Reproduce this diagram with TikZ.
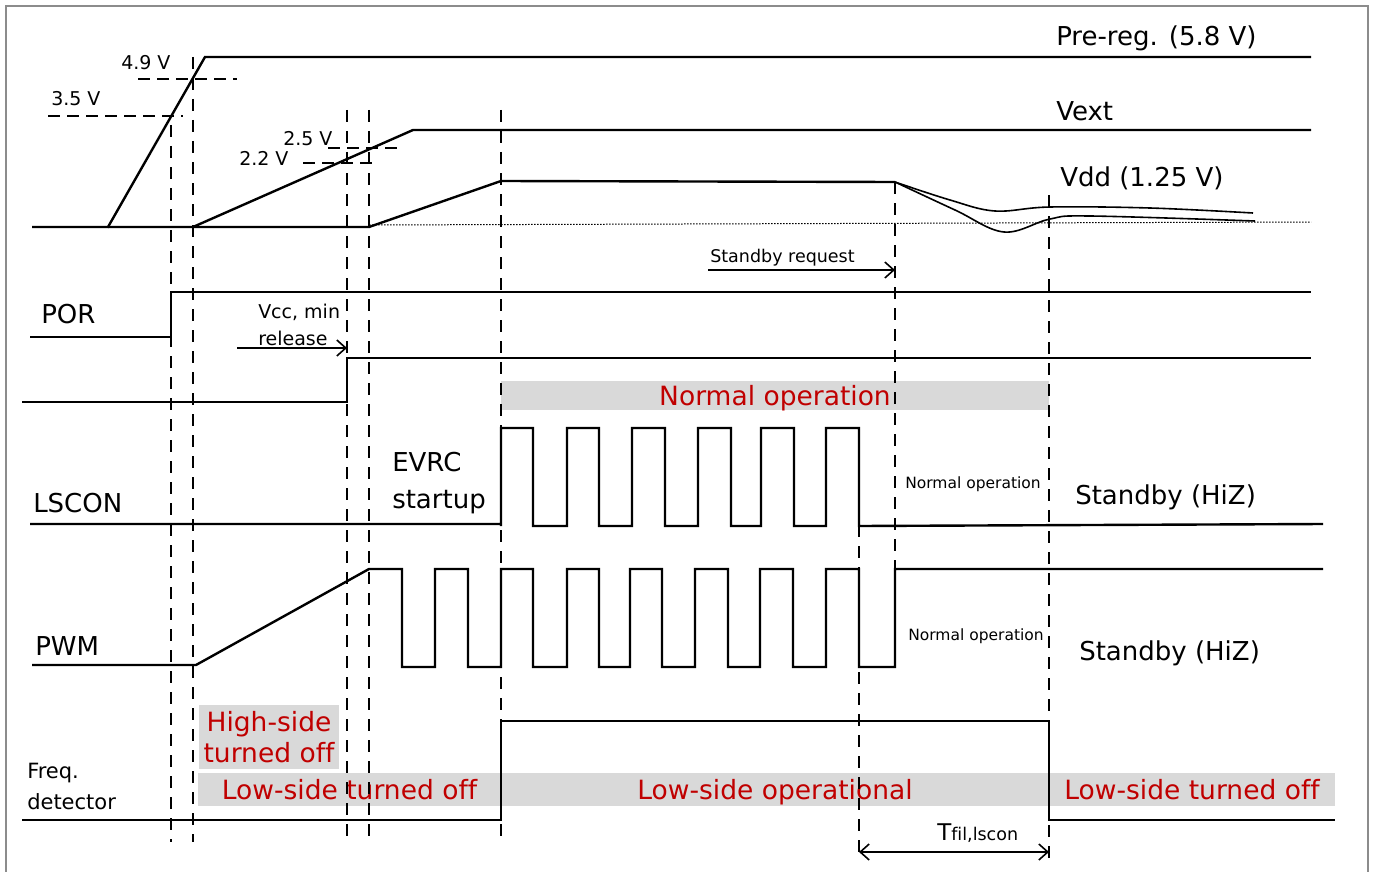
\documentclass[tikz,border=0pt]{standalone}
\usepackage{fontspec}
\setmainfont[Ligatures=NoCommon]{DejaVu Sans}
\usetikzlibrary{arrows.meta, positioning}
\definecolor{cred}{HTML}{C00000}
\definecolor{cband}{HTML}{D9D9D9}
\definecolor{cframe}{HTML}{8C8C8C}
\tikzset{
  every picture/.style={line width=2.5pt},
  sig/.style={draw=black, line width=2.4pt, line join=miter},
  guide/.style={draw=black, line width=2.2pt, dash pattern=on 12pt off 9pt},
  lvl/.style={draw=black, line width=2.2pt, dash pattern=on 12pt off 7pt},
  arr/.style={-{Straight Barb[length=9pt, width=16pt]}, line width=1.6pt},
  band/.style={fill=cband, inner sep=0pt, text=cred, align=center, text height=19.5pt, text depth=0pt},
  lbl/.style={inner sep=0pt, font=\fontsize{26}{37}\selectfont, align=left},
  vlbl/.style={inner sep=0pt, font=\fontsize{19}{27}\selectfont, align=left},
  note/.style={inner sep=0pt, font=\fontsize{15.5}{20}\selectfont},
}

\begin{document}
\begin{tikzpicture}[x=1pt, y=-1pt,
                    big/.style={font=\fontsize{26.5}{31}\selectfont},
                    thin/.style={line width=1.6pt}]
  \useasboundingbox (0,0) rectangle (1373,872);
  % frame
  \draw[cframe, line width=2pt] (6,872) -- (6,6) -- (1368,6) -- (1368,872);

  % grey bands
  \node[band, big, minimum width=548, minimum height=29] (normop) at (775,395.5) {Normal operation};
  \node[band, big, text height={}, text depth={}, minimum width=140, minimum height=64] (hsoff) at (269,737) {High-side\\turned off};
  \node[band, big, minimum width=303, minimum height=33] (lsoffa) at (349.5,789.5) {Low-side turned off};
  \node[band, big, minimum width=548, minimum height=33] (lsop) at (775,789.5) {Low-side operational};
  \node[band, big, minimum width=286, minimum height=33] (lsoffb) at (1192,789.5) {Low-side turned off};

  % supplies
  \draw[sig] (32,227) -- (108,227) -- (205,57) -- (1311,57);
  \draw[sig] (108,227) -- (193,227) -- (413,130) -- (1311,130);
  \draw[sig] (193,227) -- (369,227) -- (501,181) -- (895,182);
  \draw[line width=1pt, dash pattern=on 1.5pt off 1.5pt] (369,225) -- (1311,222);
  \draw[thin] plot[smooth, tension=0.6] coordinates {(895,182) (950,200) (995,211) (1050,207) (1150,208) (1253,213)};
  \draw[thin] plot[smooth, tension=0.6] coordinates {(895,182) (955,210) (1004,232) (1050,219) (1090,216) (1255,221)};

  % threshold levels
  \draw[lvl] (138,79) -- (237,79);
  \draw[lvl] (48,116) -- (183,116);
  \draw[lvl] (328,148) -- (402,148);
  \draw[lvl] (303,163) -- (377,163);

  % POR and release
  \draw[sig] (30,337) -- (171,337) -- (171,292) -- (1311,292);
  \draw[sig] (22,402) -- (347,402) -- (347,358) -- (1311,358);

  % LSCON
  \draw[sig] (30,524) -- (501,524)
    \foreach \r/\f in {501/533,567/599,632/665,698/731,761/794,826/859} { -- (\r,526) -- (\r,428) -- (\f,428) -- (\f,526) }
    -- (1323,524);

  % PWM
  \draw[sig] (32,665) -- (196,665) -- (369,569)
    \foreach \f/\r in {402/435,468/501,533/567,599/630,662/695,728/760,793/826,859/895} { -- (\f,569) -- (\f,667) -- (\r,667) -- (\r,569) }
    -- (1323,569);

  % frequency detector
  \draw[sig] (22,820) -- (501,820) -- (501,721) -- (1049,721) -- (1049,820) -- (1335,820);

  % time markers
  \foreach \x/\a/\b in {171/125/842, 193/57/842, 347/110/842, 369/110/842, 501/110/842, 859/525/858, 895/182/570, 1049/195/858}
    \draw[guide] (\x,\a) -- (\x,\b);

  % labels
  \node[lbl, anchor=base west] (prereg) at (1055,46) {Pre-reg. (5.8 V)};
  \node[lbl, anchor=base west] (vext) at (1055,121) {Vext};
  \node[lbl, anchor=base west] (vdd) at (1059,186) {Vdd (1.25 V)};
  \node[vlbl, anchor=base west] (v49) at (120,70) {4.9 V};
  \node[vlbl, anchor=base west] (v35) at (50,106) {3.5 V};
  \node[vlbl, anchor=base west] (v25) at (282,146) {2.5 V};
  \node[vlbl, anchor=base west] (v22) at (238,165) {2.2 V};
  \node[lbl, anchor=base west] (por) at (40,323) {POR};
  \node[vlbl, anchor=north west] (vccmin) at (257,303) {Vcc, min\\release};
  \node[lbl, anchor=north west] (evrc) at (391,451) {EVRC\\startup};
  \node[lbl, anchor=base west] (lscon) at (32,512) {LSCON};
  \node[lbl, anchor=base west] (pwm) at (34,655) {PWM};
  \node[vlbl, anchor=north west, font=\fontsize{21}{31}\selectfont] (freq) at (26,762) {Freq.\\detector};
  \node[note, anchor=base west] (noplc) at (904,488) {Normal operation};
  \node[note, anchor=base west] (nopwm) at (907,640) {Normal operation};
  \node[lbl, anchor=base west] (sblc) at (1074,504) {Standby (HiZ)};
  \node[lbl, anchor=base west] (sbpwm) at (1078,660) {Standby (HiZ)};
  \node[vlbl, anchor=base west, font=\fontsize{17.5}{20}\selectfont] (sbreq) at (709,262) {Standby request};
  \node[inner sep=0pt, anchor=base west] (tfil) at (936,840) {\fontsize{23}{26}\selectfont T\fontsize{17.5}{20}\selectfont fil,lscon};

  % arrows
  \coordinate (relfrom) at (237,348);
  \coordinate (relto) at (347,348);
  \coordinate (sbfrom) at (708,270);
  \coordinate (sbto) at (895,270);
  \coordinate (tfa) at (859,852);
  \coordinate (tfb) at (1049,852);
  \draw[arr] (relfrom) -- (relto);
  \draw[arr] (sbfrom) -- (sbto);
  \draw[arr, {Straight Barb[length=9pt, width=16pt]}-{Straight Barb[length=9pt, width=16pt]}] (tfa) -- (tfb);
\end{tikzpicture}
\end{document}
